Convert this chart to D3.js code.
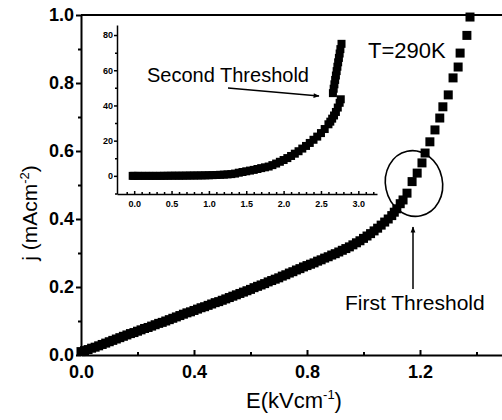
<!DOCTYPE html>
<html>
<head>
<meta charset="utf-8">
<script src="https://cdn.jsdelivr.net/npm/d3@7"></script>
<style>
  html, body { margin: 0; padding: 0; background: #fff; }
  svg { display: block; }
  text { font-family: "Liberation Sans", Arial, Helvetica, sans-serif; fill: #000; }
</style>
</head>
<body>
<svg id="chart" width="502" height="420"></svg>
<script>
// ---------------- data ----------------
// main curve: E (kV/cm) vs j (mA/cm^2)
const mainE = [0.0000,0.0125,0.0250,0.0375,0.0500,0.0625,0.0750,0.0875,0.1000,0.1125,0.1250,0.1375,0.1500,0.1625,0.1750,0.1875,0.2000,0.2125,0.2250,0.2375,0.2500,0.2625,0.2750,0.2875,0.3000,0.3125,0.3250,0.3375,0.3500,0.3625,0.3750,0.3875,0.4000,0.4125,0.4250,0.4375,0.4500,0.4625,0.4750,0.4875,0.5000,0.5125,0.5250,0.5375,0.5500,0.5625,0.5750,0.5875,0.6000,0.6125,0.6250,0.6375,0.6500,0.6625,0.6750,0.6875,0.7000,0.7125,0.7250,0.7375,0.7500,0.7625,0.7750,0.7875,0.8000,0.8125,0.8250,0.8375,0.8500,0.8625,0.8750,0.8875,0.9000,0.9125,0.9250,0.9375,0.9500,0.9625,0.9750,0.9875,1.0000,1.0125,1.0250,1.0375,1.0500,1.0625,1.0750,1.0875,1.1000,1.1090,1.118,1.130,1.140,1.154,1.172,1.190,1.207,1.218,1.235,1.253,1.270,1.281,1.300,1.317,1.335,1.342,1.366,1.377];
const mainJ = [0.010,0.013,0.016,0.020,0.023,0.027,0.031,0.035,0.039,0.043,0.047,0.051,0.055,0.059,0.063,0.066,0.070,0.074,0.078,0.081,0.085,0.089,0.093,0.096,0.100,0.104,0.108,0.112,0.116,0.120,0.124,0.127,0.131,0.135,0.139,0.142,0.146,0.150,0.154,0.157,0.161,0.165,0.169,0.173,0.177,0.181,0.185,0.189,0.193,0.198,0.202,0.206,0.210,0.215,0.219,0.223,0.227,0.232,0.236,0.241,0.245,0.250,0.254,0.259,0.263,0.267,0.271,0.276,0.280,0.285,0.289,0.294,0.298,0.303,0.308,0.313,0.318,0.324,0.330,0.336,0.343,0.350,0.357,0.365,0.373,0.382,0.391,0.400,0.410,0.420,0.430,0.445,0.456,0.476,0.510,0.535,0.565,0.594,0.627,0.662,0.697,0.730,0.765,0.815,0.847,0.888,0.940,0.994];

// inset, lower branch
const insetE = [-0.02,0.00,0.05,0.10,0.15,0.20,0.25,0.30,0.35,0.40,0.45,0.50,0.55,0.60,0.65,0.70,0.75,0.80,0.85,0.90,0.95,1.00,1.05,1.10,1.15,1.20,1.25,1.30,1.35,1.40,1.45,1.50,1.55,1.60,1.65,1.70,1.75,1.80,1.85,1.90,1.95,2.00,2.05,2.10,2.15,2.20,2.25,2.30,2.35,2.40,2.45,2.50,2.55,2.60,2.625,2.65,2.675,2.70,2.725,2.75,2.765];
const insetJ = [0.0,0.0,0.0,0.0,0.0,0.0,0.0,0.0,0.0,0.05,0.05,0.1,0.1,0.1,0.12,0.15,0.18,0.2,0.22,0.25,0.3,0.35,0.42,0.5,0.6,0.7,0.85,1.0,1.3,1.8,2.2,2.6,3.0,3.4,3.9,4.4,4.85,5.3,6.1,7.0,8.0,9.0,10.1,11.3,12.6,14.0,15.5,17.0,18.7,20.5,22.3,24.3,26.6,29.3,30.8,32.5,34.3,36.3,38.8,41.5,43.5];
// inset, upper branch (after the second threshold)
const insetE2 = [2.66,2.67,2.68,2.69,2.70,2.71,2.72,2.73,2.74,2.75,2.76,2.775];
const insetJ2 = [47.0,49.5,52.0,54.5,57.0,59.5,62.0,64.5,67.0,69.5,72.0,75.0];

// tick values
const mainXTicks = [0.0, 0.4, 0.8, 1.2];
const mainXMinor = [0.2, 0.6, 1.0, 1.4];
const mainYTicks = [0.0, 0.2, 0.4, 0.6, 0.8, 1.0];
const mainYMinor = [0.1, 0.3, 0.5, 0.7, 0.9];
const insetXTicks = [0.0, 0.5, 1.0, 1.5, 2.0, 2.5, 3.0];
const insetXMinor = [-0.1,0.1,0.2,0.3,0.4,0.6,0.7,0.8,0.9,1.1,1.2,1.3,1.4,1.6,1.7,1.8,1.9,2.1,2.2,2.3,2.4,2.6,2.7,2.8,2.9,3.1,3.2];
const insetYTicks = [0, 20, 40, 60, 80];
const insetYMinor = [-10, 10, 30, 50, 70];

// ---------------- drawing ----------------
const svg = d3.select("#chart");

const x = d3.scaleLinear().domain([0, 1.5]).range([81, 504.75]);
const y = d3.scaleLinear().domain([0, 1]).range([355, 15]);

const xi = d3.scaleLinear().domain([-0.23, 3.25]).range([117, 377]);
const yi = d3.scaleLinear().domain([-10.3, 85.7]).range([194, 25]);

// main frame: top spine
svg.append("line")
  .attr("x1", x(0)).attr("x2", 505).attr("y1", y(1)).attr("y2", y(1))
  .attr("stroke", "#000").attr("stroke-width", 2);

// main y axis
const gy = svg.append("g").attr("transform", `translate(${x(0)},0)`)
  .call(d3.axisLeft(y).tickValues(mainYTicks).tickFormat(d3.format(".1f")).tickSize(5).tickSizeOuter(0).tickPadding(2));
gy.append("g").call(d3.axisLeft(y).tickValues(mainYMinor).tickFormat("").tickSize(3).tickSizeOuter(0))
  .select(".domain").remove();
gy.selectAll("text").style("font-size", "18px").style("font-weight", "bold").attr("fill", "#000");
gy.selectAll("path,line").attr("stroke", "#000").attr("stroke-width", 2);

// main x axis (ticks inward)
const gx = svg.append("g").attr("transform", `translate(0,${y(0)})`)
  .call(d3.axisBottom(x).tickValues(mainXTicks).tickFormat(d3.format(".1f")).tickSize(-5).tickSizeOuter(0).tickPadding(10));
gx.append("g").call(d3.axisBottom(x).tickValues(mainXMinor).tickFormat("").tickSize(-3).tickSizeOuter(0))
  .select(".domain").remove();
gx.selectAll("text").style("font-size", "18px").style("font-weight", "bold").attr("fill", "#000");
gx.selectAll("path,line").attr("stroke", "#000").attr("stroke-width", 2);

// main data squares
const ms = 9;
const mainData = mainE.map((e, i) => ({e, j: mainJ[i]}));
svg.append("g").selectAll("rect").data(mainData).join("rect")
  .attr("x", d => x(d.e) - ms / 2)
  .attr("y", d => y(d.j) - ms / 2)
  .attr("width", ms).attr("height", ms)
  .attr("fill", "#000");

// axis titles
const yl = svg.append("text")
  .attr("transform", "translate(37,213) rotate(-90)")
  .attr("text-anchor", "middle")
  .style("font-size", "21px");
yl.append("tspan").text("j (mAcm");
yl.append("tspan").text("-2").style("font-size", "13px").attr("dy", "-8");
yl.append("tspan").text(")").attr("dy", "8");

const xl = svg.append("text")
  .attr("x", 294).attr("y", 408)
  .attr("text-anchor", "middle")
  .style("font-size", "22px");
xl.append("tspan").text("E(kVcm");
xl.append("tspan").text("-1").style("font-size", "13px").attr("dy", "-9");
xl.append("tspan").text(")").attr("dy", "9");

// T label
svg.append("text").attr("x", 368).attr("y", 58).style("font-size", "22px").text("T=290K");

// ellipse around first threshold
svg.append("ellipse")
  .attr("cx", 414).attr("cy", 183.5).attr("rx", 28.5).attr("ry", 33)
  .attr("transform", "rotate(-12,414,183.5)")
  .attr("fill", "none").attr("stroke", "#000").attr("stroke-width", 1.6);

// arrow marker
const defs = svg.append("defs");
defs.append("marker").attr("id", "arr")
  .attr("viewBox", "0 0 10 10").attr("refX", 9).attr("refY", 5)
  .attr("markerWidth", 7).attr("markerHeight", 6).attr("orient", "auto")
  .attr("markerUnits", "userSpaceOnUse")
  .append("path").attr("d", "M0,1 L10,5 L0,9 Z").attr("fill", "#000");

// First threshold arrow and label
svg.append("line")
  .attr("x1", 413).attr("y1", 289).attr("x2", 413).attr("y2", 227)
  .attr("stroke", "#000").attr("stroke-width", 1.5).attr("marker-end", "url(#arr)");
svg.append("text").attr("x", 345).attr("y", 310).style("font-size", "21px").text("First Threshold");

// ---------------- inset ----------------
const giy = svg.append("g").attr("transform", `translate(${xi.range()[0]},0)`)
  .call(d3.axisLeft(yi).tickValues(insetYTicks).tickFormat(d3.format("d")).tickSize(3).tickSizeOuter(0).tickPadding(1));
giy.append("g").call(d3.axisLeft(yi).tickValues(insetYMinor).tickFormat("").tickSize(2).tickSizeOuter(0))
  .select(".domain").remove();
giy.selectAll("text").style("font-size", "9px").style("font-weight", "bold").attr("fill", "#000");
giy.selectAll("path,line").attr("stroke", "#000").attr("stroke-width", 1.5);

const gix = svg.append("g").attr("transform", `translate(0,${yi.range()[0]})`)
  .call(d3.axisBottom(xi).tickValues(insetXTicks).tickFormat(d3.format(".1f")).tickSize(-3).tickSizeOuter(0).tickPadding(7));
gix.append("g").call(d3.axisBottom(xi).tickValues(insetXMinor).tickFormat("").tickSize(-2).tickSizeOuter(0))
  .select(".domain").remove();
gix.selectAll("text").style("font-size", "9px").style("font-weight", "bold").attr("fill", "#000");
gix.selectAll("path,line").attr("stroke", "#000").attr("stroke-width", 1.5);

const is = 8;
const insetData = insetE.map((e, i) => ({e, j: insetJ[i]}))
  .concat(insetE2.map((e, i) => ({e, j: insetJ2[i]})));
svg.append("g").selectAll("rect").data(insetData).join("rect")
  .attr("x", d => xi(d.e) - is / 2)
  .attr("y", d => yi(d.j) - is / 2)
  .attr("width", is).attr("height", is)
  .attr("fill", "#000");

// Second threshold label and arrow
svg.append("text").attr("x", 147).attr("y", 82).style("font-size", "20px").text("Second Threshold");
svg.append("line")
  .attr("x1", 228).attr("y1", 88).attr("x2", 319).attr("y2", 96)
  .attr("stroke", "#000").attr("stroke-width", 1.3).attr("marker-end", "url(#arr)");
</script>
</body>
</html>
